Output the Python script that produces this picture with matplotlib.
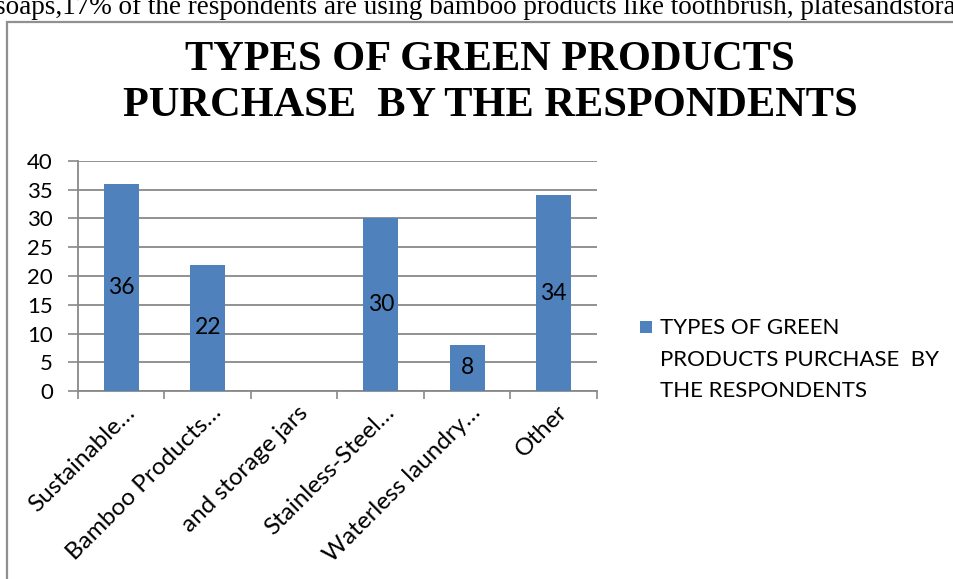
import matplotlib.pyplot as plt
from matplotlib.patches import Rectangle
from matplotlib.transforms import ScaledTranslation

categories = ['Sustainable…', 'Bamboo Products…', 'and storage jars',
              'Stainless-Steel…', 'Waterless laundry…', 'Other']
counts = [36, 22, 0, 30, 8, 34]
title = 'TYPES OF GREEN PRODUCTS\nPURCHASE  BY THE RESPONDENTS'
legend_label = 'TYPES OF GREEN\nPRODUCTS PURCHASE  BY\nTHE RESPONDENTS'
page_text = 'soaps,17% of the respondents are using bamboo products like toothbrush, platesandstorage jars'

bar_color = '#4F81BD'
grid_color = '#898989'
sans = 'Lato'

fig = plt.figure(figsize=(9.54, 5.79), dpi=100)
W, H = 954, 579

# running text of the page above the chart object
fig.text(-5 / W, 1 - 14 / H, page_text, family='Liberation Serif', fontsize=19.5,
         va='baseline', ha='left')

# chart frame
fig.patches.append(Rectangle((7 / W, -0.05), 1.2, 1 - 22 / H + 0.05,
                             transform=fig.transFigure, fill=False,
                             edgecolor='#909090', linewidth=1.6))

ax = fig.add_axes([78 / W, 1 - 391 / H, (597 - 78) / W, (391 - 161) / H])
x = list(range(len(categories)))
bars = ax.bar(x, counts, width=0.41, color=bar_color, zorder=3)

for xi, v in zip(x, counts):
    if v > 0:
        ax.text(xi, v / 2, str(v), ha='center', va='center', fontsize=16.5,
                family=sans, zorder=4)

ax.set_xlim(-0.5, len(categories) - 0.5)
ax.set_ylim(0, 40)
ax.set_yticks(range(0, 41, 5))
ax.yaxis.grid(True, color=grid_color, linewidth=1.3, zorder=0)
ax.tick_params(axis='y', length=7, width=1.2, color=grid_color, labelsize=16,
               pad=11)
for lbl in ax.get_yticklabels():
    lbl.set_family(sans)

ax.set_xticks(x)
ax.set_xticklabels(categories, rotation=45, ha='right', va='center',
                   rotation_mode='anchor', fontsize=17.5, family=sans)
ax.tick_params(axis='x', which='major', length=0, pad=13)
shift = ScaledTranslation(10 / 100, 0, fig.dpi_scale_trans)
for lbl in ax.get_xticklabels():
    lbl.set_transform(lbl.get_transform() + shift)
ax.set_xticks([i - 0.5 for i in range(len(categories) + 1)], minor=True)
ax.tick_params(axis='x', which='minor', length=6, width=1.2, color=grid_color)

for side in ['top', 'right']:
    ax.spines[side].set_visible(False)
for side in ['left', 'bottom']:
    ax.spines[side].set_color(grid_color)
    ax.spines[side].set_linewidth(1.3)

fig.text(490 / W, 1 - 83 / H, title, family='Liberation Serif', weight='bold',
         fontsize=30.5, ha='center', va='center', linespacing=1.25)

# legend
fig.patches.append(Rectangle((640 / W, 1 - 333 / H), 12 / W, 12 / H,
                             transform=fig.transFigure, facecolor=bar_color,
                             edgecolor='none'))
fig.text(660 / W, 1 - 318 / H, legend_label, family=sans, fontsize=16,
         ha='left', va='top', linespacing=1.72)

fig.savefig('out.png', dpi=100)
